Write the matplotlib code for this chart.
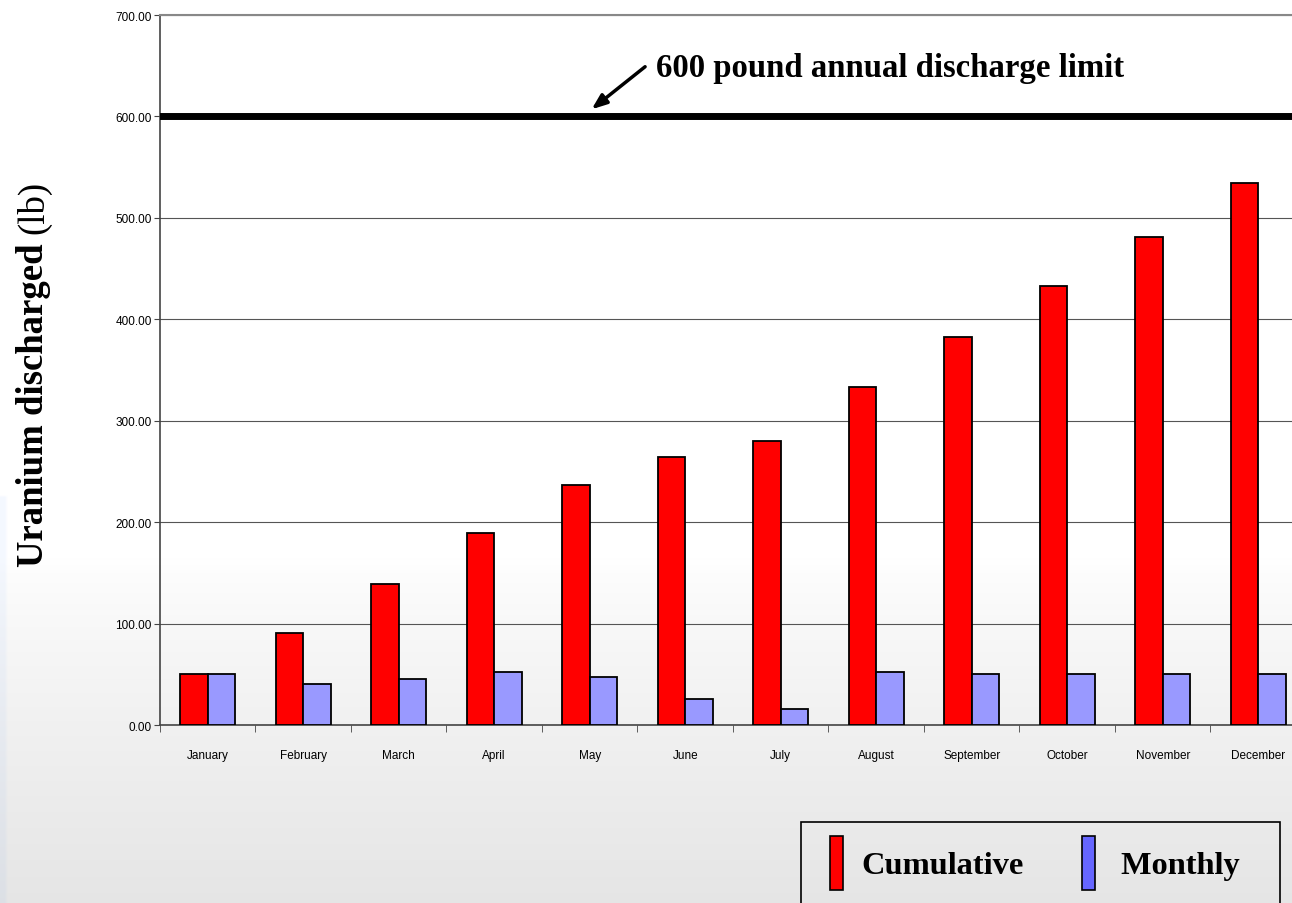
import numpy as np
import matplotlib
matplotlib.use("Agg")
import matplotlib.pyplot as plt
from matplotlib.patches import Patch, Rectangle

months = ["January", "February", "March", "April", "May", "June", "July",
          "August", "September", "October", "November", "December"]
cumulative = [50, 91, 139, 189, 237, 264, 280, 333, 383, 433, 481, 534]
monthly = [50, 40, 45, 52, 47, 26, 16, 52, 50, 50, 50, 50]
limit = 600
yticks = [0, 100, 200, 300, 400, 500, 600, 700]

W, H = 1292, 904
fig = plt.figure(figsize=(W / 100, H / 100), dpi=100)

# slide background gradient
bg = fig.add_axes([0, 0, 1, 1], zorder=-10)
rows = np.linspace(0, 1, 400)
shade = np.where(rows < 0.62, 1.0, 1.0 - 0.10 * ((rows - 0.62) / 0.38) ** 0.8)
img = np.repeat(np.tile(shade[:, None], (1, 400))[:, :, None], 3, axis=2)
# very faint tint at the left edge
strip = (rows > 0.55)[:, None] & (np.arange(400) < 2)[None, :]
img[strip] = img[strip] * np.array([0.96, 0.975, 1.0])
bg.imshow(img, aspect="auto", extent=[0, 1, 1, 0], interpolation="bilinear")
bg.set_xlim(0, 1)
bg.set_ylim(1, 0)
bg.axis("off")

ax = fig.add_axes([0.1238, 0.1969, 0.887, 0.7854])
ax.patch.set_alpha(0)

x = np.arange(len(months))
w = 0.29
ax.bar(x - w / 2, cumulative, w, color="#ff0000", edgecolor="black",
       linewidth=1.3, zorder=3)
ax.bar(x + w / 2, monthly, w, color="#9999ff", edgecolor="black",
       linewidth=1.3, zorder=3)

ax.axhline(limit, color="black", linewidth=5, zorder=4)

ax.set_xlim(-0.5, len(months) - 0.5)
ax.set_ylim(0, 700)
ax.set_yticks(yticks)
ax.set_yticklabels([f"{v:.2f}" for v in yticks])
ax.yaxis.grid(True, color="#555555", linewidth=0.8, zorder=0)
ax.set_xticks(x)
ax.set_xticklabels(months)
ax.set_xticks(np.arange(len(months) + 1) - 0.5, minor=True)
ax.tick_params(axis="x", which="major", length=0, pad=17)
ax.tick_params(axis="x", which="minor", length=5, color="#444444")
ax.tick_params(axis="y", length=4, pad=2, color="#444444")
for lab in ax.get_xticklabels() + ax.get_yticklabels():
    lab.set_family(["Liberation Sans Narrow", "Liberation Sans"])
    lab.set_fontsize(8.5)

ax.spines["right"].set_visible(False)
ax.spines["top"].set_color("#888888")
ax.spines["top"].set_linewidth(1.5)
for s in ["left", "bottom"]:
    ax.spines[s].set_color("#444444")
    ax.spines[s].set_linewidth(1.2)

# limit annotation
ax.annotate("", xy=(4.02, 607), xytext=(4.58, 649),
            arrowprops=dict(arrowstyle="-|>,head_length=0.9,head_width=0.35",
                            color="black", lw=2.5, shrinkA=0, shrinkB=0))
ax.text(4.69, 640, "600 pound annual discharge limit", family="Liberation Serif",
        fontweight="bold", fontsize=23.6, va="baseline", ha="left")

# y label: bold part + normal "(lb)", baseline at x=43px, starting at y=567px
t1 = fig.text(43 / W, 1 - 567 / H, "Uranium discharged", rotation=90,
              rotation_mode="anchor", ha="left", va="baseline",
              family="Liberation Serif", fontweight="bold", fontsize=26.5)
fig.canvas.draw()
r = fig.canvas.get_renderer()
top = t1.get_window_extent(r).y1 / fig.bbox.height
fig.text(43 / W, top + 9 / H, "(lb)", rotation=90, rotation_mode="anchor",
         ha="left", va="baseline", family="Liberation Serif", fontsize=26.5)

# legend box
fig.patches.append(Rectangle((801 / W, -0.02), (1280 - 801) / W,
                             0.02 + 1 - 823 / H, transform=fig.transFigure,
                             facecolor="none", edgecolor="black", linewidth=1.2))
handles = [Patch(facecolor="#ff0000", edgecolor="black", linewidth=1.2),
           Patch(facecolor="#6666ff", edgecolor="black", linewidth=1.2)]
fig.legend(handles, ["Cumulative", " Monthly"], loc="center left",
           bbox_to_anchor=(830 / W, 1 - 864 / H), ncol=2, frameon=False,
           borderpad=0, borderaxespad=0,
           handlelength=0.4, handleheight=2.15, handletextpad=0.58,
           columnspacing=1.78,
           prop={"family": "Liberation Serif", "weight": "bold", "size": 23.3})

fig.savefig("out.png", dpi=100)
